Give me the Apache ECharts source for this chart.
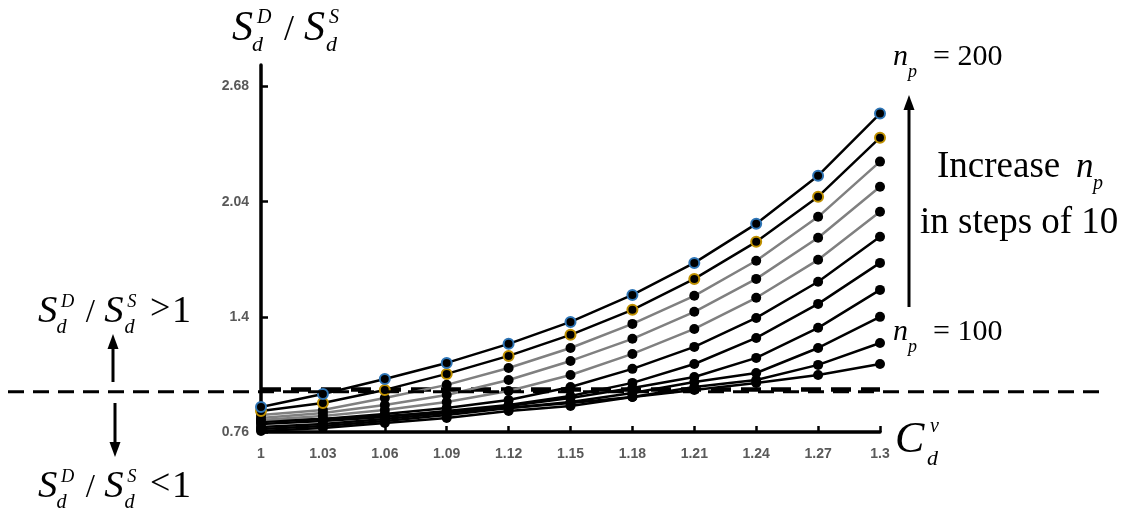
<!DOCTYPE html>
<html>
<head>
<meta charset="utf-8">
<script src="https://cdn.jsdelivr.net/npm/echarts@6/dist/echarts.min.js"></script>
<style>
  html, body { margin: 0; padding: 0; background: #ffffff; }
  #chart { width: 1127px; height: 518px; }
</style>
</head>
<body>
<div id="chart"></div>
<script>
// Coefficient of variation of demand (x axis categories)
const cdValues = ['1', '1.03', '1.06', '1.09', '1.12', '1.15', '1.18', '1.21', '1.24', '1.27', '1.3'];

// Y axis tick labels
const yTicks = [0.76, 1.4, 2.04, 2.68];

// Ratio S_d^D / S_d^S for each number of periods n_p
const np100 = [0.821, 0.832, 0.849, 0.871, 0.894, 0.921, 0.955, 0.994, 1.033, 1.077, 1.138];
const np110 = [0.766, 0.782, 0.810, 0.838, 0.877, 0.905, 0.955, 1.010, 1.049, 1.133, 1.255];
const np120 = [0.777, 0.793, 0.821, 0.855, 0.894, 0.927, 0.977, 1.038, 1.088, 1.227, 1.400];
const np130 = [0.788, 0.805, 0.832, 0.866, 0.905, 0.949, 1.005, 1.066, 1.172, 1.339, 1.550];
const np140 = [0.805, 0.821, 0.843, 0.877, 0.910, 0.960, 1.033, 1.138, 1.283, 1.472, 1.700];
const np150 = [0.816, 0.832, 0.860, 0.894, 0.938, 1.010, 1.111, 1.233, 1.394, 1.595, 1.845];
const np160 = [0.827, 0.849, 0.882, 0.927, 0.988, 1.077, 1.194, 1.333, 1.506, 1.717, 1.984];
const np170 = [0.838, 0.866, 0.910, 0.966, 1.049, 1.155, 1.278, 1.428, 1.611, 1.840, 2.123];
const np180 = [0.855, 0.882, 0.949, 1.022, 1.116, 1.227, 1.361, 1.517, 1.712, 1.956, 2.263];
const np190 = [0.877, 0.921, 0.994, 1.083, 1.183, 1.300, 1.439, 1.611, 1.817, 2.068, 2.396];
const np200 = [0.899, 0.971, 1.055, 1.144, 1.250, 1.372, 1.522, 1.700, 1.917, 2.185, 2.530];

const npLevels = [100, 110, 120, 130, 140, 150, 160, 170, 180, 190, 200];
const ratioSeries = [np100, np110, np120, np130, np140, np150, np160, np170, np180, np190, np200];

// Break-even level of the ratio
const threshold = 1;

const grayLevels = [160, 170, 180];
const markerBorder = { 190: '#bf9000', 200: '#2e75b6' };

const chart = echarts.init(document.getElementById('chart'), null, { renderer: 'canvas' });

const series = ratioSeries.map(function (vals, i) {
  const np = npLevels[i];
  const s = {
    name: 'n_p = ' + np,
    type: 'line',
    data: vals,
    symbol: 'circle',
    symbolSize: 10,
    showSymbol: true,
    animation: false,
    lineStyle: { color: grayLevels.indexOf(np) >= 0 ? '#808080' : '#000000', width: 2.5 },
    itemStyle: {
      color: '#000000',
      borderColor: markerBorder[np] || '#000000',
      borderWidth: markerBorder[np] ? 2 : 0
    },
    z: 2 + i
  };
  if (i === 0) {
    s.markLine = {
      silent: true,
      symbol: ['none', 'none'],
      label: { show: false },
      lineStyle: { color: '#000000', width: 4.5, type: [20, 10] },
      data: [{ yAxis: threshold }]
    };
  }
  return s;
});

// Piece of math text (glyph) placed relative to its baseline
function glyph(str, x, baseline, size, italic) {
  const font = (italic ? 'italic ' : '') + size + 'px "Liberation Serif", "DejaVu Serif", serif';
  return {
    type: 'text',
    x: x,
    y: baseline - 0.34 * size,
    silent: true,
    z: 100,
    style: {
      text: str, fill: '#000000', font: font,
      align: 'left', verticalAlign: 'middle',
      textAlign: 'left', textVerticalAlign: 'middle'
    }
  };
}

// S_d^D / S_d^S built from glyphs
function ratioLabel(x0, b, k) {
  return [
    glyph('S', x0, b, 42 * k, true),
    glyph('D', x0 + 25 * k, b - 18 * k, 20 * k, true),
    glyph('d', x0 + 20 * k, b + 10 * k, 22 * k, true),
    glyph('/', x0 + 52 * k, b, 36 * k, false),
    glyph('S', x0 + 72 * k, b, 42 * k, true),
    glyph('S', x0 + 97 * k, b - 18 * k, 20 * k, true),
    glyph('d', x0 + 94 * k, b + 10 * k, 22 * k, true)
  ];
}

function arrow(x, yTail, yTip) {
  const dir = yTip < yTail ? 1 : -1;
  return [
    { type: 'line', silent: true, z: 100,
      shape: { x1: x, y1: yTail, x2: x, y2: yTip + dir * 12 },
      style: { stroke: '#000000', lineWidth: 3 } },
    { type: 'polygon', silent: true, z: 100,
      shape: { points: [[x, yTip], [x - 5.5, yTip + dir * 15], [x + 5.5, yTip + dir * 15]] },
      style: { fill: '#000000' } }
  ];
}

const option = {
  backgroundColor: '#ffffff',
  animation: false,
  grid: { left: 261, right: 247, top: 65, bottom: 86, containLabel: false },
  xAxis: {
    type: 'category',
    data: cdValues,
    boundaryGap: false,
    axisLine: { show: true, onZero: false, lineStyle: { color: '#000000', width: 3.5 } },
    axisTick: { show: true, inside: true, length: 6, lineStyle: { color: '#000000', width: 2.5 } },
    axisLabel: { color: '#595959', fontWeight: 'bold', fontSize: 14, fontFamily: 'Liberation Sans', margin: 15 },
    splitLine: { show: false }
  },
  yAxis: {
    type: 'value',
    min: 0.76,
    max: 2.8,
    interval: 0.64,
    axisLine: { show: true, lineStyle: { color: '#000000', width: 3.5 } },
    axisTick: { show: true, inside: true, length: 7, customValues: yTicks, lineStyle: { color: '#000000', width: 2.5 } },
    axisLabel: { color: '#595959', fontWeight: 'bold', fontSize: 14, fontFamily: 'Liberation Sans', margin: 12, customValues: yTicks },
    splitLine: { show: false }
  },
  series: series
};

chart.setOption(option);

const yOne = chart.convertToPixel({ yAxisIndex: 0 }, threshold);

const graphics = [].concat(
  [{ type: 'line', silent: true, z: 90,
     shape: { x1: 8, y1: yOne + 3, x2: 1105, y2: yOne + 3 },
     style: { stroke: '#000000', lineWidth: 3, lineDash: [16, 9] } }],
  // axis titles
  ratioLabel(232, 43, 1),
  [glyph('C', 895, 455, 44, true), glyph('v', 930, 434, 20, true), glyph('d', 927, 467, 22, true)],
  // regions above / below the break-even line
  ratioLabel(38, 325, 0.92),
  [glyph('>', 150, 322, 36, false), glyph('1', 172, 325, 38, false)],
  arrow(113, 382, 334),
  arrow(115, 403, 457),
  ratioLabel(38, 500, 0.92),
  [glyph('<', 150, 497, 36, false), glyph('1', 172, 500, 38, false)],
  // n_p annotations
  [glyph('n', 893, 67, 30, true), glyph('p', 908, 78, 18, true), glyph('= 200', 933, 67, 30, false)],
  [glyph('n', 893, 342, 30, true), glyph('p', 908, 353, 18, true), glyph('= 100', 933, 342, 30, false)],
  arrow(909, 307, 95),
  [glyph('Increase', 937, 180, 37, false), glyph('n', 1076, 180, 35, true), glyph('p', 1093, 191, 20, true)],
  [glyph('in steps of 10', 920, 236, 37, false)]
);

chart.setOption({ graphic: graphics });
</script>
</body>
</html>
